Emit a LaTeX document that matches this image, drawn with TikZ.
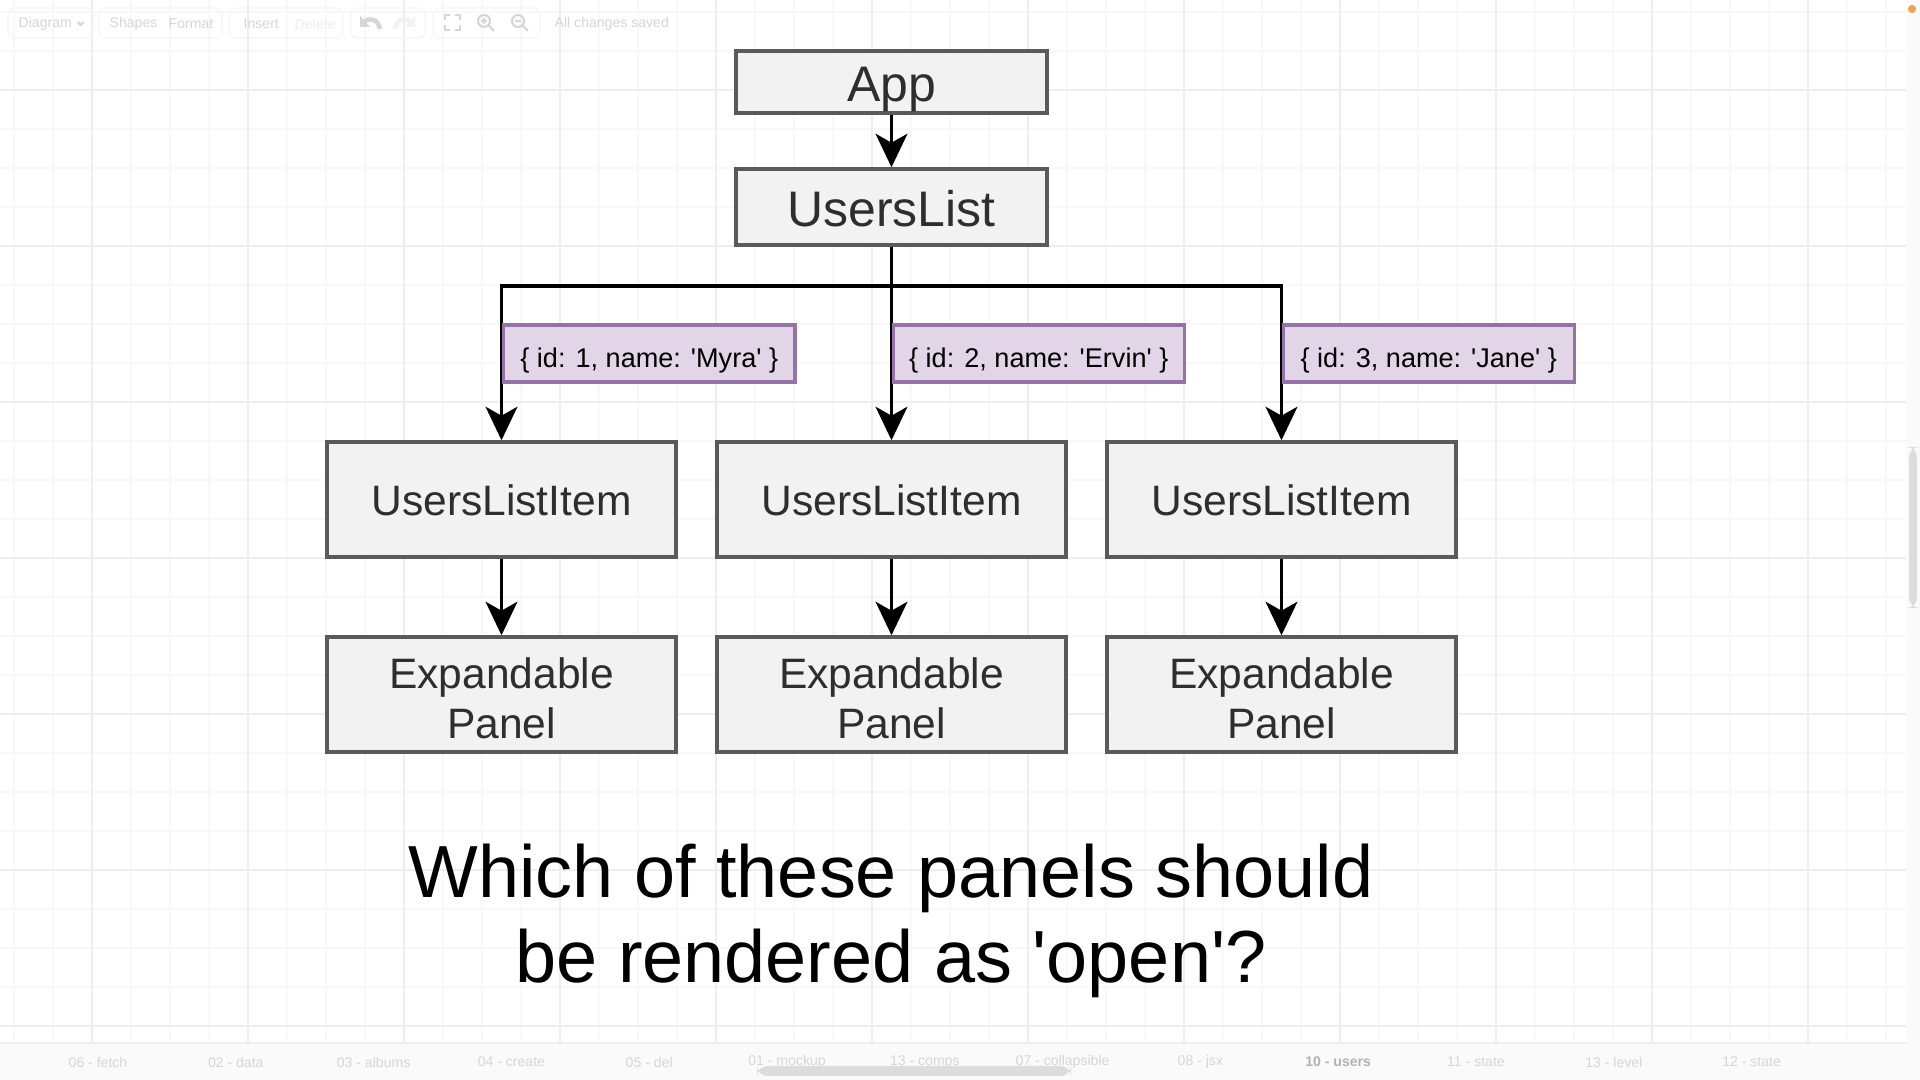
\documentclass[tikz,border=0pt]{standalone}
\usepackage{fontspec}
\setmainfont{Liberation Sans}
\usetikzlibrary{arrows.meta, positioning}
\definecolor{boxfill}{HTML}{F2F2F2}
\definecolor{boxline}{HTML}{5A5A5A}
\definecolor{propfill}{HTML}{E1D5E7}
\definecolor{propline}{HTML}{9673A6}
\definecolor{gridminor}{HTML}{F8F8F8}
\definecolor{gridmajor}{HTML}{EEEEEE}
\definecolor{chrome}{HTML}{D6D6D6}
\definecolor{barfill}{HTML}{FAFAFA}
\definecolor{thumb}{HTML}{DCDCDC}
\definecolor{dot}{HTML}{F0A050}
\newcommand{\q}{\textquotesingle}

\begin{document}
\begin{tikzpicture}[x=0.01cm, y=-0.01cm,
    comp/.style={rectangle, minimum width=3.11cm, draw=boxline, line width=0.95pt, fill=boxfill, text=black!82, text centered, inner sep=0pt, text height=11.2pt, text depth=0pt, font=\fontsize{14.2}{16}\selectfont},
    item/.style={comp, minimum width=3.49cm, minimum height=1.15cm, text height=9.2pt, font=\fontsize{12.1}{14.2}\selectfont},
    panel/.style={item, align=center, text height=24.9pt, text depth=0pt},
    prop/.style={rectangle, minimum width=2.91cm, minimum height=0.57cm, draw=propline, line width=0.95pt, fill=propfill, anchor=west, inner sep=0pt, text height=7.8pt, text depth=0pt, font=\fontsize{7.7}{9}\selectfont},
    arr/.style={-{Stealth[length=9.5pt, width=9pt, inset=2.5pt]}, line width=1.1pt},
    tab/.style={text=chrome, font=\fontsize{4}{5}\selectfont, inner sep=0pt},
    btn/.style={draw=black!4, rounded corners=2pt, line width=0.3pt},
    icon/.style={draw=chrome, line width=0.6pt}
]
    \useasboundingbox (0,0) rectangle (1920,1080);
    \fill[white] (0,0) rectangle (1920,1080);

    % grid
    \foreach \x in {14,53,...,1906} \draw[gridminor, line width=0.3pt] (\x,0) -- (\x,1043);
    \foreach \y in {12,51,...,1043} \draw[gridminor, line width=0.3pt] (0,\y) -- (1906,\y);
    \foreach \x in {92,248,...,1906} \draw[gridmajor, line width=0.3pt] (\x,0) -- (\x,1043);
    \foreach \y in {90,246,...,1043} \draw[gridmajor, line width=0.3pt] (0,\y) -- (1906,\y);

    % toolbar
    \draw[btn] (8,8) rectangle (93,38);
    \draw[btn] (99,8) rectangle (222,38);
    \draw[btn] (229,8) rectangle (343,38);
    \draw[btn] (351,8) rectangle (425,38);
    \draw[btn] (433,8) rectangle (540,38);
    \node[tab, anchor=west] (diagram) at (18,24) {Diagram};
    \draw[icon] (diagram.east) ++(5,-2) -- ++(3,3) -- ++(3,-3);
    \node[tab, anchor=west] (shapes) at (109,24) {Shapes};
    \node[tab, anchor=west] (format) at (168,24) {Format};
    \node[tab, anchor=west] (insert) at (243,24) {Insert};
    \node[tab, anchor=west, text=black!7] (delete) at (294,24) {Delete};
    \node[tab, anchor=west] (saved) at (554,24) {All changes saved};
    % undo / redo
    \draw[icon, line width=1.3pt] (380,29) .. controls (378,19) and (370,17) .. (364,22);
    \fill[chrome] (360,16) -- (360,27) -- (370,27) -- cycle;
    \draw[icon, line width=1.3pt, black!5] (395,29) .. controls (397,19) and (405,17) .. (411,22);
    \fill[black!5] (415,16) -- (415,27) -- (405,27) -- cycle;
    % fullscreen
    \draw[icon] (445,20) -- (445,15) -- (450,15) (455,15) -- (460,15) -- (460,20)
                (460,25) -- (460,30) -- (455,30) (450,30) -- (445,30) -- (445,25);
    % zoom in / out
    \draw[icon] (484,21) circle (6) (488,25) -- (494,31) (481,21) -- (487,21) (484,18) -- (484,24);
    \draw[icon] (518,21) circle (6) (522,25) -- (528,31) (515,21) -- (521,21);

    % scrollbars and tabs
    \fill[barfill] (1906,0) rectangle (1920,1080);
    \fill[thumb, rounded corners=3pt] (1909,447) rectangle (1917,608);
    \fill[barfill] (0,1043) rectangle (1906,1080);
    \draw[gridmajor, line width=0.3pt] (0,1043) -- (1906,1043);
    \fill[thumb, rounded corners=3pt] (757,1066) rectangle (1071,1076);
    \fill[dot] (1912,9) circle (4);
    \foreach \i/\t in {0/06 - fetch, 1/02 - data, 2/03 - albums, 3/04 - create, 4/05 - del, 5/01 - mockup, 6/13 - comps, 7/07 - collapsible, 8/08 - jsx, 10/11 - state, 11/13 - level, 12/12 - state}
        \node[tab] (tab\i) at ({98+137.8*\i},1062) {\t};
    \node[tab, text=black!30, font=\fontsize{4}{5}\selectfont\bfseries] (tab9) at ({98+137.8*9},1062) {10 - users};

    % components
    \node[comp, minimum height=0.62cm] (app) at (891.5,82) {App};
    \node[comp, minimum height=0.76cm] (list) at (891.5,207) {UsersList};

    \node[item] (item1) at (501.5,499.5) {UsersListItem};
    \node[item] (item2) at (891.5,499.5) {UsersListItem};
    \node[item] (item3) at (1281.5,499.5) {UsersListItem};

    \node[panel] (panel1) at (501.5,694.5) {Expandable\\Panel};
    \node[panel] (panel2) at (891.5,694.5) {Expandable\\Panel};
    \node[panel] (panel3) at (1281.5,694.5) {Expandable\\Panel};

    \draw[arr] (app) -- (list);
    \draw[arr] (list.south) -- ++(0,39) -| (item1.north);
    \draw[arr] (list) -- (item2);
    \draw[arr] (list.south) -- ++(0,39) -| (item3.north);
    \draw[arr] (item1) -- (panel1);
    \draw[arr] (item2) -- (panel2);
    \draw[arr] (item3) -- (panel3);

    % props
    \node[prop] (myra) at (502,353.5) {\{ id: 1, name: \q Myra\q\ \}};
    \node[prop] (ervin) at (891.5,353.5) {\{ id: 2, name: \q Ervin\q\ \}};
    \node[prop] (jane) at (1281.5,353.5) {\{ id: 3, name: \q Jane\q\ \}};

    % question
    \node[align=center, font=\fontsize{21}{24.2}\selectfont] (question) at (891,921) {Which of these panels should\\be rendered as \q open\q ?};
\end{tikzpicture}
\end{document}
